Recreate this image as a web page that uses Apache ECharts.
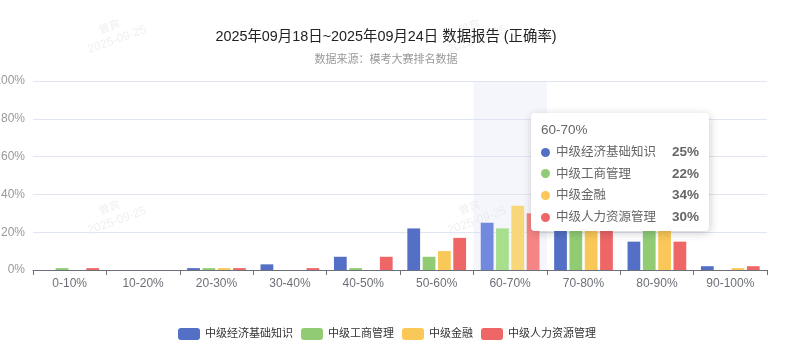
<!DOCTYPE html>
<html>
<head>
<meta charset="utf-8">
<script src="https://cdn.jsdelivr.net/npm/echarts@6/dist/echarts.min.js"></script>
<style>
html,body{margin:0;padding:0;background:#fff;}
#chart{width:801px;height:350px;}
</style>
</head>
<body>
<div id="chart"></div>
<script>
var categories = ['0-10%','10-20%','20-30%','30-40%','40-50%','50-60%','60-70%','70-80%','80-90%','90-100%'];
var seriesNames = ['中级经济基础知识','中级工商管理','中级金融','中级人力资源管理'];
var jingji = [0, 0, 1, 3, 7, 22, 25, 25, 15, 2];
var gongshang = [1, 0, 1, 0, 1, 7, 22, 33, 35, 0];
var jinrong = [0, 0, 1, 0, 0, 10, 34, 28, 26, 1];
var renli = [1, 0, 1, 1, 7, 17, 30, 26, 15, 2];
var yTicks = [0, 20, 40, 60, 80, 100];
var titleText = '2025年09月18日~2025年09月24日 数据报告 (正确率)';
var subText = '数据来源：模考大赛排名数据';
var watermarkName = '曾宾';
var watermarkDate = '2025-09-25';
var hoverIndex = 6;

var FONT = '"Liberation Sans","Noto Sans CJK SC",sans-serif';
var colors = ['#5470c6','#91cc75','#fac858','#ee6666'];
var hoverColors = ['#7289dd','#a8df8d','#f7d77a','#f48584'];
var chart = echarts.init(document.getElementById('chart'), null, {renderer:'canvas'});

var wmPos = [[110,27],[470,27],[110,208],[470,208]];
var graphics = [];
wmPos.forEach(function(p){
  graphics.push({
    type:'group', x:p[0]+5, y:p[1]+7, rotation: 20*Math.PI/180, z: 100, silent:true,
    children:[
      {type:'text', style:{text:watermarkName, x:-3, y:-8, textAlign:'center', textVerticalAlign:'middle', fontSize:11, fontFamily:FONT, fill:'rgba(0,0,0,0.07)'}},
      {type:'text', style:{text:watermarkDate, x:0, y:6, textAlign:'center', textVerticalAlign:'middle', fontSize:12, fontFamily:FONT, fill:'rgba(0,0,0,0.07)'}}
    ]
  });
});

var dataList = [jingji, gongshang, jinrong, renli];
var series = seriesNames.map(function(n, i){
  return {
    name:n, type:'bar', data:dataList[i], z:5,
    barGap:'20%', barCategoryGap:'20%',
    itemStyle:{color:colors[i]},
    emphasis:{itemStyle:{color:hoverColors[i]}}
  };
});

function tipFormatter(params){
  var html = '<div style="width:158px;font-family:' + FONT.replace(/"/g,"'") + ';">';
  html += '<div style="font-size:13.5px;color:#666;line-height:14px;">' + params[0].axisValue + '</div>';
  params.forEach(function(p, k){
    html += '<div style="display:flex;align-items:center;line-height:14px;margin-top:' + (k === 0 ? 8 : 7.7) + 'px;">' +
      '<span style="display:inline-block;width:9px;height:9px;border-radius:50%;background:' + p.color + ';margin-right:6px;"></span>' +
      '<span style="font-size:12.5px;color:#666;flex:1;">' + p.seriesName + '</span>' +
      '<span style="font-size:13.5px;color:#666;font-weight:900;">' + p.value + '%</span></div>';
  });
  html += '</div>';
  return html;
}

chart.setOption({
  animation:false,
  color:colors,
  textStyle:{fontFamily:FONT},
  title:{
    text:titleText, subtext:subText,
    left:386, top:30, textAlign:'center',
    padding:0,
    itemGap:10,
    textStyle:{fontSize:14.4, fontWeight:'normal', color:'#222', fontFamily:FONT},
    subtextStyle:{fontSize:11, color:'#999', fontFamily:FONT}
  },
  legend:{
    data:seriesNames,
    left:173, top:323,
    itemWidth:22, itemHeight:12, itemGap:8,
    textStyle:{fontSize:11, color:'#333', fontFamily:FONT}
  },
  grid:{left:33, right:34, top:81, bottom:80, containLabel:false, outerBoundsMode:'none'},
  axisPointer:{z:1},
  tooltip:{
    trigger:'axis',
    axisPointer:{type:'shadow', z:1, shadowStyle:{color:'rgba(210,219,238,0.25)'}},
    alwaysShowContent:true,
    transitionDuration:0,
    backgroundColor:'#fff',
    borderWidth:0,
    padding:[10,10,7,10],
    position:function(){ return [531,113]; },
    formatter:tipFormatter
  },
  xAxis:{
    type:'category', data:categories,
    axisLabel:{fontSize:12, color:'#6e7079'},
    axisLine:{lineStyle:{color:'#6e7079'}},
    axisTick:{show:true}
  },
  yAxis:{
    type:'value', min:yTicks[0], max:yTicks[yTicks.length-1], interval:yTicks[1]-yTicks[0],
    axisLabel:{formatter:'{value}%', fontSize:12, color:'#999'},
    splitLine:{lineStyle:{color:'#e0e6f1'}}
  },
  graphic:graphics,
  series:series
});
chart.dispatchAction({type:'showTip', seriesIndex:0, dataIndex:hoverIndex});
chart.dispatchAction({type:'highlight', seriesIndex:[0,1,2,3], dataIndex:hoverIndex});
</script>
</body>
</html>
